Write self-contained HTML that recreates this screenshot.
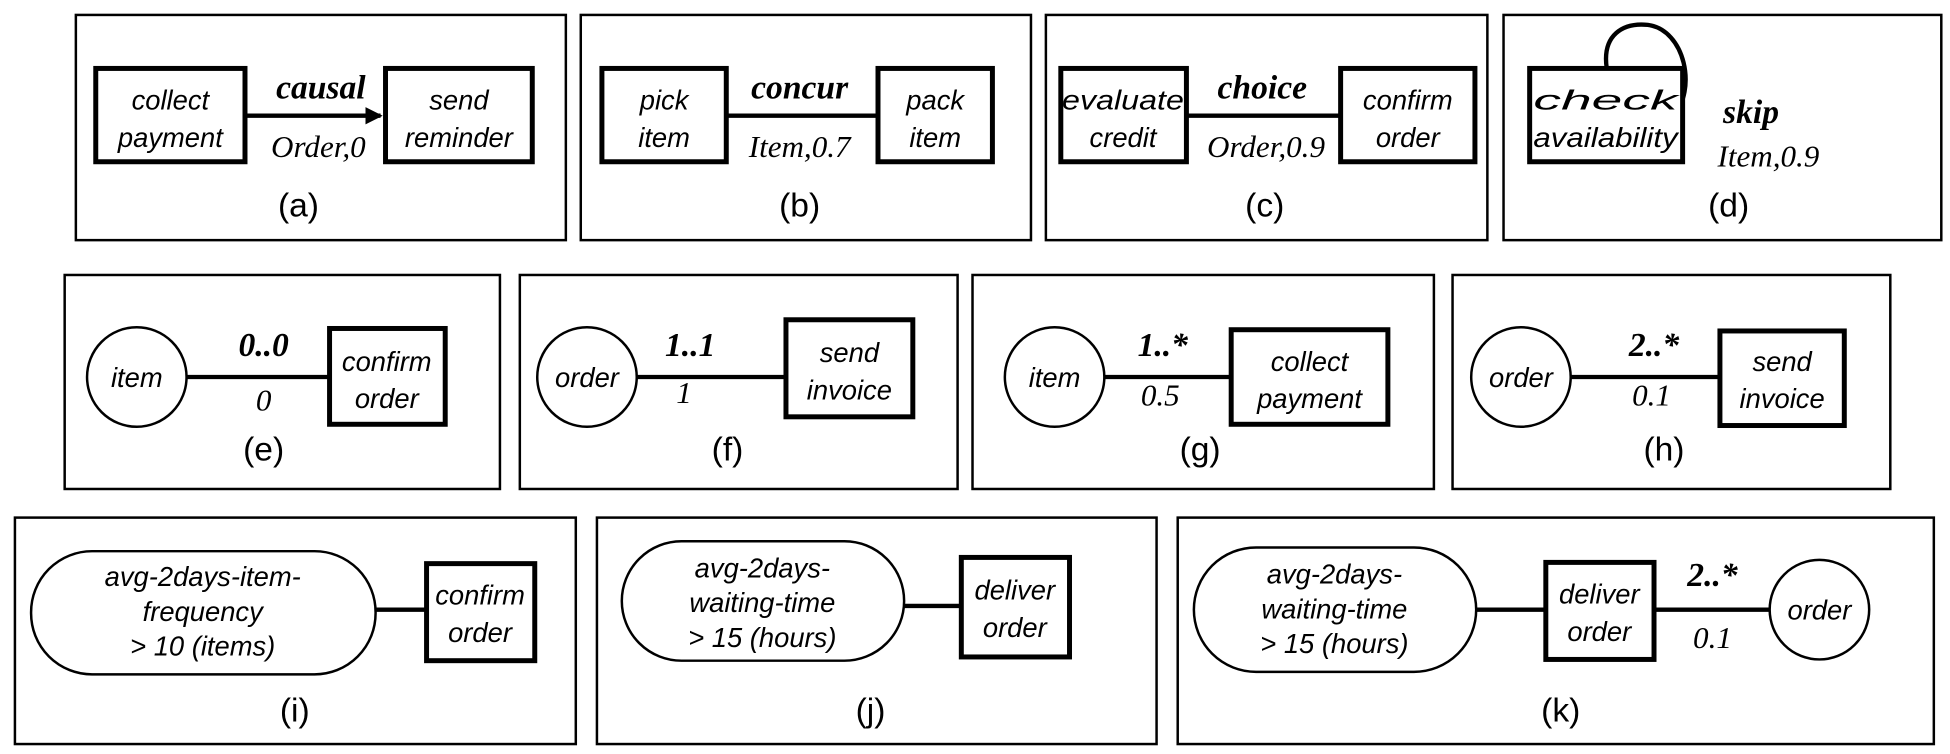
<!DOCTYPE html>
<html><head><meta charset="utf-8"><style>html,body{margin:0;padding:0;background:#fff}svg{display:block}
.s{font-family:"Liberation Sans",sans-serif;font-style:italic;font-size:22px;text-anchor:middle}
.r{font-family:"Liberation Serif",serif;font-style:italic;font-size:25px;text-anchor:middle}
.b{font-family:"Liberation Serif",serif;font-style:italic;font-weight:bold;font-size:27px;text-anchor:middle}
.c{font-family:"Liberation Sans",sans-serif;font-size:27px;text-anchor:middle}
.f{fill:none;stroke:#000;stroke-width:2}
.n{fill:#fff;stroke:#000;stroke-width:4}
.o{fill:#fff;stroke:#000;stroke-width:2}
.l{stroke:#000;stroke-width:3.5}
</style></head><body>
<svg width="1950" height="754" viewBox="0 0 1568 606" preserveAspectRatio="none">
<defs><marker id="ar" markerWidth="4" markerHeight="4" refX="3.5" refY="2" orient="auto" markerUnits="strokeWidth"><path d="M0,0L4,2L0,4z"/></marker></defs>
<rect class="f" x="61" y="12" width="394" height="181"/>
<rect class="f" x="467" y="12" width="362" height="181"/>
<rect class="f" x="841" y="12" width="355" height="181"/>
<rect class="f" x="1209" y="12" width="352" height="181"/>
<rect class="f" x="52" y="221" width="350" height="172"/>
<rect class="f" x="418" y="221" width="352" height="172"/>
<rect class="f" x="782" y="221" width="371" height="172"/>
<rect class="f" x="1168" y="221" width="352" height="172"/>
<rect class="f" x="12" y="416" width="451" height="182"/>
<rect class="f" x="480" y="416" width="450" height="182"/>
<rect class="f" x="947" y="416" width="608" height="182"/>
<!-- a -->
<line class="l" x1="197" y1="93" x2="306" y2="93" marker-end="url(#ar)"/>
<rect class="n" x="77" y="55" width="120" height="75"/><text class="s" x="137" y="88">collect</text><text class="s" x="137" y="118">payment</text>
<rect class="n" x="310" y="55" width="118" height="75"/><text class="s" x="369" y="88">send</text><text class="s" x="369" y="118">reminder</text>
<text class="b" x="258" y="79">causal</text><text class="r" x="256" y="126">Order,0</text><text class="c" x="240" y="174">(a)</text>
<!-- b -->
<line class="l" x1="584" y1="93" x2="706" y2="93"/>
<rect class="n" x="484" y="55" width="100" height="75"/><text class="s" x="534" y="88">pick</text><text class="s" x="534" y="118">item</text>
<rect class="n" x="706" y="55" width="92" height="75"/><text class="s" x="752" y="88">pack</text><text class="s" x="752" y="118">item</text>
<text class="b" x="643" y="79">concur</text><text class="r" x="643" y="126">Item,0.7</text><text class="c" x="643" y="174">(b)</text>
<!-- c -->
<line class="l" x1="954" y1="93" x2="1078" y2="93"/>
<rect class="n" x="853" y="55" width="101" height="75"/><text class="s" x="903" y="88" textLength="98" lengthAdjust="spacingAndGlyphs">evaluate</text><text class="s" x="903" y="118">credit</text>
<rect class="n" x="1078" y="55" width="108" height="75"/><text class="s" x="1132" y="88">confirm</text><text class="s" x="1132" y="118">order</text>
<text class="b" x="1015" y="79">choice</text><text class="r" x="1018" y="126">Order,0.9</text><text class="c" x="1017" y="174">(c)</text>
<!-- d -->
<path d="M1292,55 C1288,28 1305,18 1325,20 C1355,24 1365,72 1345,94" fill="none" stroke="#000" stroke-width="3.5"/>
<rect class="n" x="1230" y="55" width="123" height="75"/><text class="s" x="1291" y="88" textLength="116" lengthAdjust="spacingAndGlyphs">check</text><text class="s" x="1291" y="118" textLength="116" lengthAdjust="spacingAndGlyphs">availability</text>
<text class="b" x="1408" y="99">skip</text><text class="r" x="1422" y="134">Item,0.9</text><text class="c" x="1390" y="174">(d)</text>
<!-- e -->
<line class="l" x1="150" y1="303" x2="265" y2="303"/>
<circle class="o" cx="110" cy="303" r="40"/><text class="s" x="110" y="311">item</text>
<rect class="n" x="265" y="264" width="93" height="77"/><text class="s" x="311" y="298">confirm</text><text class="s" x="311" y="328">order</text>
<text class="b" x="212" y="286">0..0</text><text class="r" x="212" y="330">0</text><text class="c" x="212" y="370">(e)</text>
<!-- f -->
<line class="l" x1="512" y1="303" x2="632" y2="303"/>
<circle class="o" cx="472" cy="303" r="40"/><text class="s" x="472" y="311">order</text>
<rect class="n" x="632" y="257" width="102" height="78"/><text class="s" x="683" y="291">send</text><text class="s" x="683" y="321">invoice</text>
<text class="b" x="555" y="286">1..1</text><text class="r" x="550" y="324">1</text><text class="c" x="585" y="370">(f)</text>
<!-- g -->
<line class="l" x1="888" y1="303" x2="990" y2="303"/>
<circle class="o" cx="848" cy="303" r="40"/><text class="s" x="848" y="311">item</text>
<rect class="n" x="990" y="265" width="126" height="76"/><text class="s" x="1053" y="298">collect</text><text class="s" x="1053" y="328">payment</text>
<text class="b" x="935" y="286">1..*</text><text class="r" x="933" y="326">0.5</text><text class="c" x="965" y="370">(g)</text>
<!-- h -->
<line class="l" x1="1263" y1="303" x2="1383" y2="303"/>
<circle class="o" cx="1223" cy="303" r="40"/><text class="s" x="1223" y="311">order</text>
<rect class="n" x="1383" y="266" width="100" height="76"/><text class="s" x="1433" y="298">send</text><text class="s" x="1433" y="328">invoice</text>
<text class="b" x="1330" y="286">2..*</text><text class="r" x="1328" y="326">0.1</text><text class="c" x="1338" y="370">(h)</text>
<!-- i -->
<line class="l" x1="302" y1="490" x2="343" y2="490"/>
<rect class="o" x="25" y="443" width="277" height="99" rx="49"/>
<text class="s" x="163" y="471">avg-2days-item-</text><text class="s" x="163" y="499">frequency</text><text class="s" x="163" y="527">&gt; 10 (items)</text>
<rect class="n" x="343" y="453" width="87" height="78"/><text class="s" x="386" y="486">confirm</text><text class="s" x="386" y="516">order</text>
<text class="c" x="237" y="580">(i)</text>
<!-- j -->
<line class="l" x1="727" y1="487" x2="773" y2="487"/>
<rect class="o" x="500" y="435" width="227" height="96" rx="48"/>
<text class="s" x="613" y="464">avg-2days-</text><text class="s" x="613" y="492">waiting-time</text><text class="s" x="613" y="520">&gt; 15 (hours)</text>
<rect class="n" x="773" y="448" width="87" height="80"/><text class="s" x="816" y="482">deliver</text><text class="s" x="816" y="512">order</text>
<text class="c" x="700" y="580">(j)</text>
<!-- k -->
<line class="l" x1="1187" y1="490" x2="1243" y2="490"/>
<line class="l" x1="1330" y1="490" x2="1423" y2="490"/>
<rect class="o" x="960" y="440" width="227" height="100" rx="50"/>
<text class="s" x="1073" y="469">avg-2days-</text><text class="s" x="1073" y="497">waiting-time</text><text class="s" x="1073" y="525">&gt; 15 (hours)</text>
<rect class="n" x="1243" y="452" width="87" height="78"/><text class="s" x="1286" y="485">deliver</text><text class="s" x="1286" y="515">order</text>
<circle class="o" cx="1463" cy="490" r="40"/><text class="s" x="1463" y="498">order</text>
<text class="b" x="1377" y="471">2..*</text><text class="r" x="1377" y="521">0.1</text><text class="c" x="1255" y="580">(k)</text>
</svg>
</body></html>
